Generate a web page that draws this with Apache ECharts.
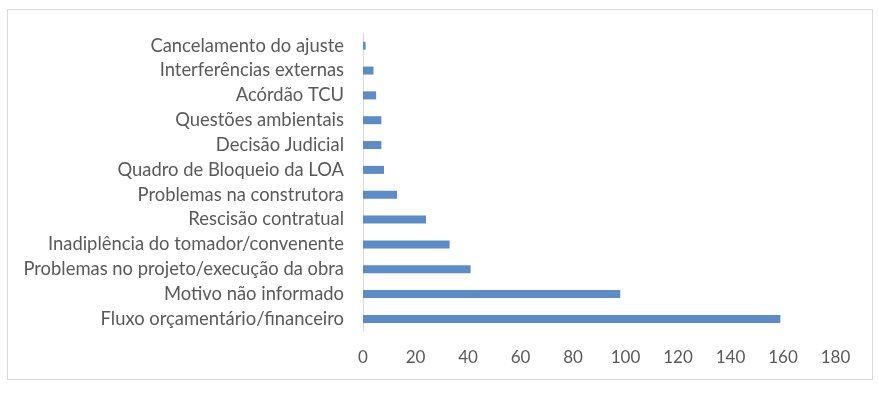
<!DOCTYPE html>
<html><head><meta charset="utf-8">
<script src="https://cdn.jsdelivr.net/npm/echarts@6/dist/echarts.min.js"></script>
<style>html,body{margin:0;padding:0;background:#fff}#c{width:879px;height:393px;position:relative}
#frame{position:absolute;left:7px;top:9px;width:866px;height:371px;border:1px solid #d9d9d9;box-sizing:border-box;pointer-events:none}</style>
</head><body><div id="c"></div><div id="frame"></div>
<script>
const categories = ["Fluxo orçamentário/financeiro","Motivo não informado","Problemas no projeto/execução da obra","Inadiplência do tomador/convenente","Rescisão contratual","Problemas na construtora","Quadro de Bloqueio da LOA","Decisão Judicial","Questões ambientais","Acórdão TCU","Interferências externas","Cancelamento do ajuste"];
const values = [159,98,41,33,24,13,8,7,7,5,4,1];
const xTicks = [0,20,40,60,80,100,120,140,160,180];
const chart = echarts.init(document.getElementById('c'));
const font = 'Lato';
chart.setOption({
  animation:false,
  grid:{left:363,right:43.5,top:33.3,height:298},
  xAxis:{type:'value',min:xTicks[0],max:xTicks[xTicks.length-1],interval:20,
    splitLine:{show:false},axisLine:{show:false},axisTick:{show:false},
    axisLabel:{color:'#595959',fontSize:17,fontFamily:font,margin:18}},
  yAxis:{type:'category',data:categories,
    axisLine:{show:true,lineStyle:{color:'#d9d9d9'}},axisTick:{show:false},
    axisLabel:{color:'#595959',fontSize:18.4,fontFamily:font,margin:19}},
  series:[{type:'bar',data:values,barWidth:8,itemStyle:{color:'#5b8cc8'}}]
});
</script></body></html>
